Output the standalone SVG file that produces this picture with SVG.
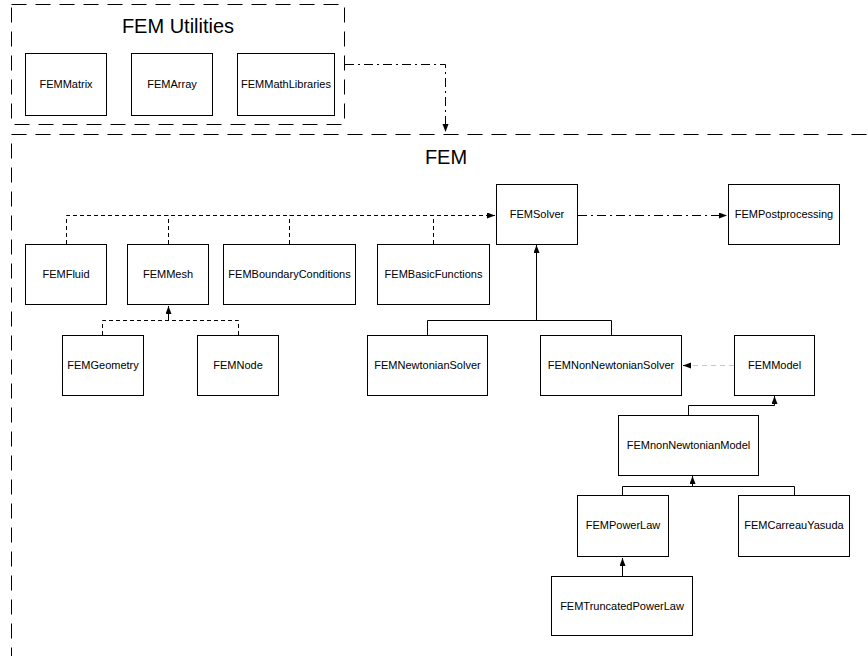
<svg xmlns="http://www.w3.org/2000/svg" width="868" height="656" viewBox="0 0 868 656">
<style>
.bg{fill:#fff}
.container{fill:none;stroke:#000;stroke-width:1;stroke-dasharray:15 9}
.box{fill:#fff;stroke:#000;stroke-width:1}
.lbl{font-family:"Liberation Sans",Arial,sans-serif;font-size:11px;fill:#000;text-anchor:middle}
.title{font-family:"Liberation Sans",Arial,sans-serif;font-size:20px;fill:#000;text-anchor:middle}
.solid{fill:none;stroke:#000;stroke-width:1}
.dash{fill:none;stroke:#000;stroke-width:1;stroke-dasharray:4 3}
.dashdot{fill:none;stroke:#000;stroke-width:1;stroke-dasharray:9 4 2 4}
.grey{fill:none;stroke:#c8c8c8;stroke-width:1;stroke-dasharray:5 4}
</style>
<defs>
<marker id="arr" markerUnits="userSpaceOnUse" markerWidth="8" markerHeight="7" refX="8" refY="3" orient="auto">
<path d="M0,0 L8,3 L0,6 z" fill="#000"/>
</marker>
</defs>
<rect class="bg" x="0" y="0" width="868" height="656"/>

<g id="fem-utilities">
<rect class="container" x="11.5" y="4.5" width="333" height="120"/>
<text class="title" x="178" y="33">FEM Utilities</text>
</g>
<g id="fem">
<rect class="container" x="11.5" y="134.5" width="900" height="600"/>
<text class="title" x="446" y="164">FEM</text>
</g>

<g id="connectors">
<path class="dashdot" d="M345,64.5 H445.5 V132" marker-end="url(#arr)"/>
<path class="dash" d="M66.5,244 V215.5 H495" marker-end="url(#arr)"/>
<path class="dash" d="M168.5,244 V215.5"/>
<path class="dash" d="M289.5,244 V215.5"/>
<path class="dash" d="M433.5,244 V215.5"/>
<path class="dashdot" d="M578,215.5 H727" marker-end="url(#arr)"/>
<path class="dash" d="M102.5,335 V320.5 H238.5 V335"/>
<path class="solid" d="M168.5,320.5 V306" marker-end="url(#arr)"/>
<path class="solid" d="M427.5,335 V320.5 H611.5 V335"/>
<path class="solid" d="M536.5,320.5 V245" marker-end="url(#arr)"/>
<path class="grey" d="M734,365.5 H690"/>
<path class="solid" d="M690,365.5 H683" marker-end="url(#arr)"/>
<path class="solid" d="M688.5,415 V405.5 H774.5 V396" marker-end="url(#arr)"/>
<path class="solid" d="M622.5,495 V486.5 H794.5 V495"/>
<path class="solid" d="M692.5,486.5 V476" marker-end="url(#arr)"/>
<path class="solid" d="M622.5,576 V558" marker-end="url(#arr)"/>
</g>

<g id="FEMMatrix"><rect class="box" x="25.5" y="53.5" width="81" height="62"/><text class="lbl" x="66" y="88">FEMMatrix</text></g>
<g id="FEMArray"><rect class="box" x="131.5" y="53.5" width="81" height="62"/><text class="lbl" x="172" y="88">FEMArray</text></g>
<g id="FEMMathLibraries"><rect class="box" x="237.5" y="53.5" width="97" height="62"/><text class="lbl" x="286" y="88">FEMMathLibraries</text></g>

<g id="FEMFluid"><rect class="box" x="25.5" y="244.5" width="81" height="60"/><text class="lbl" x="66" y="278">FEMFluid</text></g>
<g id="FEMMesh"><rect class="box" x="127.5" y="244.5" width="81" height="60"/><text class="lbl" x="168" y="278">FEMMesh</text></g>
<g id="FEMBoundaryConditions"><rect class="box" x="223.5" y="244.5" width="132" height="60"/><text class="lbl" x="289.5" y="278">FEMBoundaryConditions</text></g>
<g id="FEMBasicFunctions"><rect class="box" x="377.5" y="244.5" width="112" height="60"/><text class="lbl" x="433.5" y="278">FEMBasicFunctions</text></g>
<g id="FEMSolver"><rect class="box" x="496.5" y="184.5" width="81" height="60"/><text class="lbl" x="537" y="218">FEMSolver</text></g>
<g id="FEMPostprocessing"><rect class="box" x="728.5" y="184.5" width="111" height="60"/><text class="lbl" x="784" y="218">FEMPostprocessing</text></g>

<g id="FEMGeometry"><rect class="box" x="62.5" y="335.5" width="81" height="60"/><text class="lbl" x="103" y="369">FEMGeometry</text></g>
<g id="FEMNode"><rect class="box" x="197.5" y="335.5" width="81" height="60"/><text class="lbl" x="238" y="369">FEMNode</text></g>
<g id="FEMNewtonianSolver"><rect class="box" x="367.5" y="335.5" width="120" height="60"/><text class="lbl" x="427.5" y="369">FEMNewtonianSolver</text></g>
<g id="FEMNonNewtonianSolver"><rect class="box" x="540.5" y="335.5" width="141" height="60"/><text class="lbl" x="611" y="369">FEMNonNewtonianSolver</text></g>
<g id="FEMModel"><rect class="box" x="734.5" y="335.5" width="80" height="60"/><text class="lbl" x="774.5" y="369">FEMModel</text></g>

<g id="FEMnonNewtonianModel"><rect class="box" x="618.5" y="415.5" width="140" height="60"/><text class="lbl" x="688.5" y="449">FEMnonNewtonianModel</text></g>
<g id="FEMPowerLaw"><rect class="box" x="577.5" y="495.5" width="91" height="61"/><text class="lbl" x="623" y="529">FEMPowerLaw</text></g>
<g id="FEMCarreauYasuda"><rect class="box" x="738.5" y="495.5" width="111" height="61"/><text class="lbl" x="794" y="529">FEMCarreauYasuda</text></g>
<g id="FEMTruncatedPowerLaw"><rect class="box" x="551.5" y="576.5" width="141" height="59"/><text class="lbl" x="622" y="610">FEMTruncatedPowerLaw</text></g>
</svg>
